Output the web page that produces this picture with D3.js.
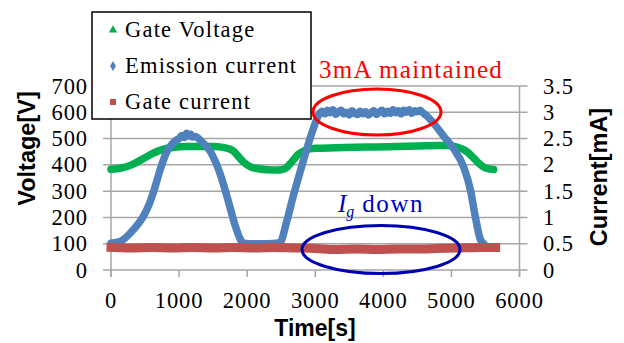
<!DOCTYPE html>
<html>
<head>
<meta charset="utf-8">
<script src="https://cdn.jsdelivr.net/npm/d3@7"></script>
<style>
  html, body { margin: 0; padding: 0; background: #ffffff; }
  svg { display: block; }
</style>
</head>
<body>
<svg id="chart" width="624" height="343"></svg>
<script>
// Time axis (s)
const timeTicks = [0, 1000, 2000, 3000, 4000, 5000, 6000];
// Left axis: voltage (V)
const voltTicks = [0, 100, 200, 300, 400, 500, 600, 700];
// Right axis: current (mA)
const currTicks = [0, 0.5, 1, 1.5, 2, 2.5, 3, 3.5];

// Gate voltage [V] vs time [s]
const gateVoltT = [0, 150, 300, 450, 600, 750, 900, 1100, 1300, 1500, 1700, 1800, 1850, 1950, 2050, 2150, 2300, 2450, 2550, 2650, 2750, 2850, 3000, 3300, 3600, 3900, 4200, 4500, 4800, 4950, 5080, 5230, 5330, 5420, 5500, 5620];
const gateVoltV = [383, 388, 400, 420, 442, 458, 466, 470, 470, 470, 464, 452, 438, 410, 392, 386, 381, 380, 385, 410, 440, 455, 463, 465, 467, 468, 470, 472, 474, 474, 468, 450, 425, 402, 388, 382];

// Emission current [mA] vs time [s]
const emisT = [0, 130, 330, 475, 560, 640, 720, 820, 900, 960, 1000, 1040, 1080, 1110, 1140, 1170, 1200, 1240, 1310, 1460, 1600, 1725, 1825, 1900, 1950, 2100, 2300, 2480, 2580, 2680, 2780, 2880, 2975, 3050,
  3100, 3140, 3180, 3220, 3260, 3300, 3340, 3380, 3420, 3460, 3500, 3540, 3580, 3620, 3660, 3700, 3740, 3780, 3820, 3860,
  3900, 3940, 3980, 4020, 4060, 4100, 4140, 4180, 4220, 4260, 4300, 4340, 4380, 4420, 4460, 4500, 4540, 4580,
  4640, 4740, 4890, 5030, 5180, 5280, 5350, 5425, 5475];
const emisI = [0.51, 0.54, 0.77, 1.02, 1.25, 1.55, 1.90, 2.25, 2.40, 2.47, 2.50, 2.56, 2.52, 2.60, 2.55, 2.58, 2.53, 2.54, 2.47, 2.25, 1.84, 1.30, 0.84, 0.58, 0.51, 0.50, 0.50, 0.52, 0.92, 1.42, 1.88, 2.32, 2.70, 2.95,
  3.02, 2.97, 3.04, 2.99, 3.05, 2.96, 3.01, 3.04, 2.97, 3.00, 2.95, 3.03, 2.98, 2.96, 3.02, 2.97, 3.01, 2.95, 2.99, 3.03,
  2.96, 3.00, 3.04, 2.97, 3.02, 2.98, 3.05, 2.99, 3.03, 2.97, 3.04, 3.00, 3.05, 2.98, 3.03, 3.01, 3.04, 2.99,
  2.93, 2.79, 2.54, 2.31, 1.96, 1.52, 1.02, 0.58, 0.50];

// Gate current [mA] vs time [s]
const gateCurT = [0, 300, 600, 900, 1200, 1500, 1800, 2100, 2400, 2700, 3000, 3300, 3600, 3900, 4200, 4500, 4800, 5100, 5400, 5650];
const gateCurI = [0.43, 0.42, 0.43, 0.42, 0.43, 0.42, 0.43, 0.42, 0.43, 0.42, 0.41, 0.39, 0.40, 0.39, 0.40, 0.40, 0.41, 0.42, 0.43, 0.43];

const legendLabels = ["Gate Voltage", "Emission current", "Gate current"];
const colors = { volt: "#00b050", emis: "#4f81bd", gcur: "#c0504d" };

const svg = d3.select("#chart");
const plot = { left: 111, right: 519.5, top: 86, bottom: 270 };

const x = d3.scaleLinear().domain([0, 6000]).range([plot.left, plot.right]);
const yV = d3.scaleLinear().domain([0, 700]).range([plot.bottom, plot.top]);
const yI = d3.scaleLinear().domain([0, 3.5]).range([plot.bottom, plot.top]);

const serif = "'Liberation Serif', 'Times New Roman', serif";
const sans = "'Liberation Sans', Arial, sans-serif";
const gridColor = "#a6a6a6";

// Horizontal gridlines (with outer tick stubs on both sides)
svg.append("g").selectAll("line").data(voltTicks).join("line")
  .attr("x1", plot.left - 8).attr("x2", plot.right + 8)
  .attr("y1", d => yV(d)).attr("y2", d => yV(d))
  .attr("stroke", gridColor).attr("stroke-width", 1.5);

// Left and right vertical axis lines
[plot.left, plot.right].forEach(px => {
  svg.append("line")
    .attr("x1", px).attr("x2", px)
    .attr("y1", plot.top).attr("y2", plot.bottom + 7)
    .attr("stroke", gridColor).attr("stroke-width", 1.5);
});

// Bottom tick marks
svg.append("g").selectAll("line").data(timeTicks).join("line")
  .attr("x1", d => x(d)).attr("x2", d => x(d))
  .attr("y1", plot.bottom).attr("y2", plot.bottom + 7)
  .attr("stroke", gridColor).attr("stroke-width", 1.5);

// Tick labels
const tickFont = 22.5;
const tickSpacing = 0.9;
svg.append("g").selectAll("text").data(voltTicks).join("text")
  .attr("x", 88).attr("y", d => yV(d) + 7.5)
  .attr("text-anchor", "end")
  .attr("font-family", serif).attr("font-size", tickFont).attr("letter-spacing", tickSpacing).attr("fill", "#000")
  .text(d => d);

svg.append("g").selectAll("text").data(currTicks).join("text")
  .attr("x", 543).attr("y", d => yI(d) + 7.5)
  .attr("text-anchor", "start")
  .attr("font-family", serif).attr("font-size", tickFont).attr("letter-spacing", tickSpacing).attr("fill", "#000")
  .text(d => d);

svg.append("g").selectAll("text").data(timeTicks).join("text")
  .attr("x", d => x(d)).attr("y", 308)
  .attr("text-anchor", "middle")
  .attr("font-family", serif).attr("font-size", tickFont).attr("letter-spacing", tickSpacing).attr("fill", "#000")
  .text(d => d);

// Axis titles
svg.append("text")
  .attr("x", 315).attr("y", 336)
  .attr("text-anchor", "middle")
  .attr("font-family", sans).attr("font-weight", "bold").attr("font-size", 23)
  .text("Time[s]");

svg.append("text")
  .attr("transform", "translate(35,148.5) rotate(-90)")
  .attr("text-anchor", "middle")
  .attr("font-family", sans).attr("font-weight", "bold").attr("font-size", 23.5)
  .text("Voltage[V]");

svg.append("text")
  .attr("transform", "translate(607,177) rotate(-90)")
  .attr("text-anchor", "middle")
  .attr("font-family", sans).attr("font-weight", "bold").attr("font-size", 23.5)
  .text("Current[mA]");

// Series
const curve = d3.curveMonotoneX;
const lineV = d3.line().x(d => x(d[0])).y(d => yV(d[1])).curve(curve);
const lineI = d3.line().x(d => x(d[0])).y(d => yI(d[1])).curve(curve);

svg.append("path")
  .datum(d3.zip(gateVoltT, gateVoltV))
  .attr("d", lineV)
  .attr("fill", "none").attr("stroke", colors.volt)
  .attr("stroke-width", 7.5).attr("stroke-linecap", "round").attr("stroke-linejoin", "round");

svg.append("path")
  .datum(d3.zip(emisT, emisI))
  .attr("d", lineI)
  .attr("fill", "none").attr("stroke", colors.emis)
  .attr("stroke-width", 7.5).attr("stroke-linecap", "round").attr("stroke-linejoin", "round");

svg.append("path")
  .datum(d3.zip(gateCurT, gateCurI))
  .attr("d", lineI)
  .attr("fill", "none").attr("stroke", colors.gcur)
  .attr("stroke-width", 9).attr("stroke-linecap", "square").attr("stroke-linejoin", "round");

// Callouts
svg.append("ellipse")
  .attr("cx", 377).attr("cy", 112).attr("rx", 64).attr("ry", 23)
  .attr("fill", "none").attr("stroke", "#ff0000").attr("stroke-width", 3);

svg.append("text")
  .attr("x", 319).attr("y", 78)
  .attr("font-family", serif).attr("font-size", 25).attr("letter-spacing", 1.3).attr("fill", "#ff0000")
  .text("3mA maintained");

svg.append("ellipse")
  .attr("cx", 381).attr("cy", 249.5).attr("rx", 79).attr("ry", 24)
  .attr("fill", "none").attr("stroke", "#0000b0").attr("stroke-width", 3);

const ig = svg.append("text")
  .attr("x", 338).attr("y", 212)
  .attr("font-family", serif).attr("font-size", 25).attr("fill", "#0000c0");
ig.append("tspan").attr("font-style", "italic").text("I");
ig.append("tspan").attr("font-style", "italic").attr("font-size", 16).attr("dy", 5).text("g");
ig.append("tspan").attr("dy", -5).attr("letter-spacing", 1.6).text(" down");

// Legend
const legend = svg.append("g");
legend.append("rect")
  .attr("x", 92).attr("y", 12).attr("width", 219).attr("height", 107)
  .attr("fill", "#ffffff").attr("stroke", "#000000").attr("stroke-width", 1.5);

const legY = [30, 66, 102];
const sym = [d3.symbolTriangle, d3.symbolDiamond, d3.symbolSquare];
const legColors = [colors.volt, colors.emis, colors.gcur];
legendLabels.forEach((lab, i) => {
  legend.append("path")
    .attr("transform", `translate(113,${legY[i]})`)
    .attr("d", d3.symbol().type(sym[i]).size(i === 2 ? 36 : 30)())
    .attr("fill", legColors[i]);
  legend.append("text")
    .attr("x", 125).attr("y", legY[i] + 6.5)
    .attr("font-family", serif).attr("font-size", 22.5).attr("letter-spacing", 1.2).attr("fill", "#000")
    .text(lab);
});
</script>
</body>
</html>
